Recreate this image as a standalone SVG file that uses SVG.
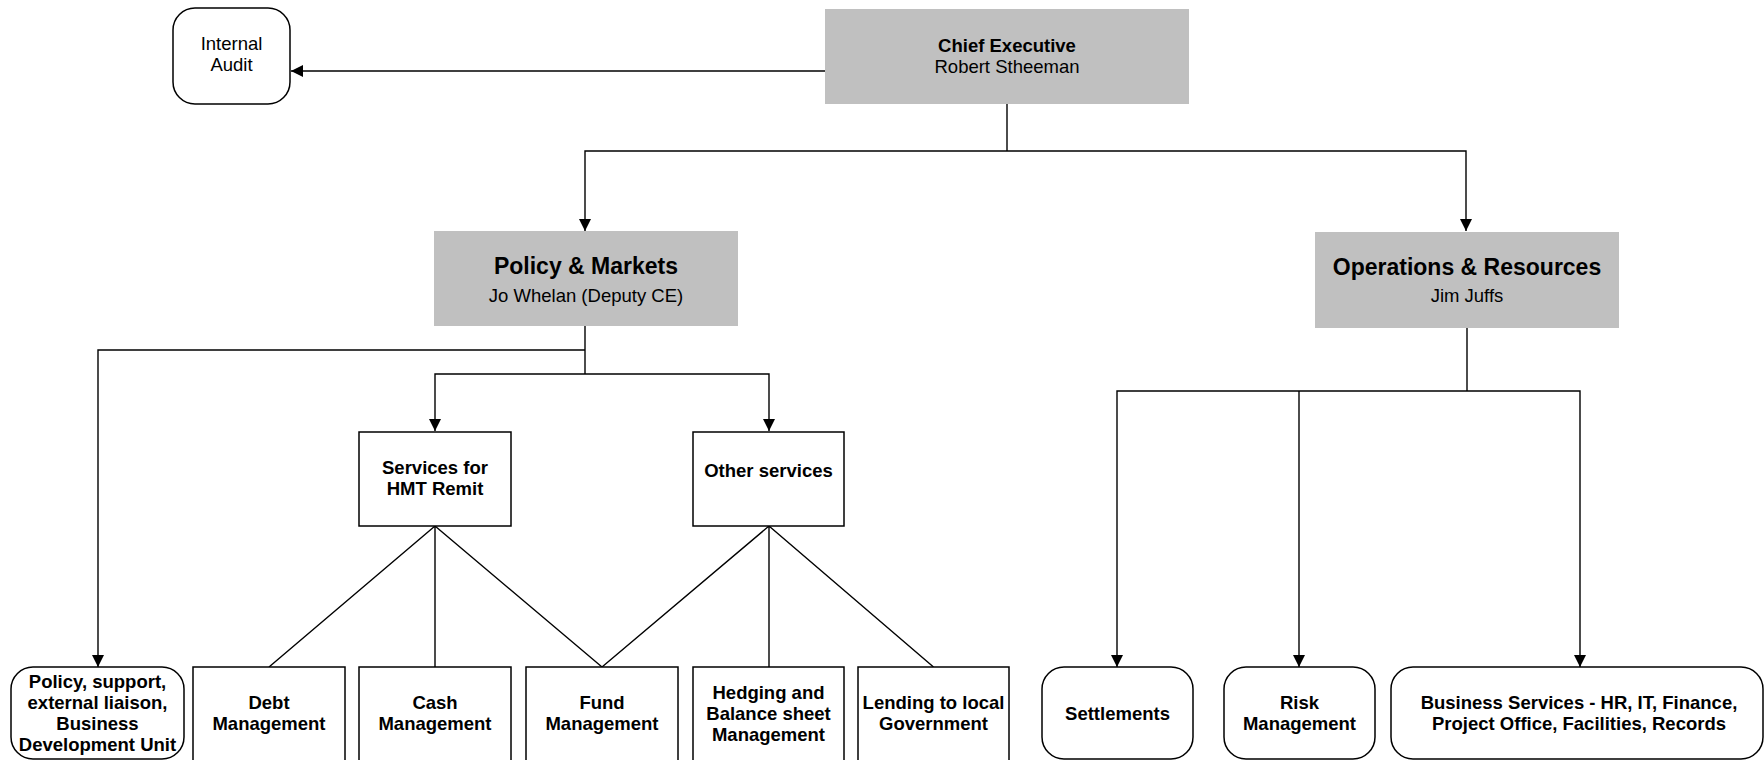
<svg xmlns="http://www.w3.org/2000/svg" width="1764" height="760" viewBox="0 0 1764 760">
<style>
text{font-family:"Liberation Sans",Arial,sans-serif;fill:#000;text-anchor:middle}
.b{font-weight:bold;font-size:18.5px}
.r{font-size:18.5px}
.t{font-weight:bold;font-size:23px}
.g{fill:#c0c0c0;stroke:none}
.w{fill:#fff;stroke:#000;stroke-width:1.5}
.c{fill:none;stroke:#000;stroke-width:1.4}
</style>
<defs>
<marker id="ah" markerUnits="userSpaceOnUse" markerWidth="13" markerHeight="13" refX="12" refY="6" orient="auto">
<path d="M0,0 L12,6 L0,12 z" fill="#000"/>
</marker>
</defs>
<rect width="1764" height="760" fill="#fff"/>
<g id="connectors">
<path class="c" d="M825,71 H291" marker-end="url(#ah)"/>
<path class="c" d="M1007,104 V151"/>
<path class="c" d="M1007,151 H585 V231" marker-end="url(#ah)"/>
<path class="c" d="M1007,151 H1466 V231" marker-end="url(#ah)"/>
<path class="c" d="M585,326 V374"/>
<path class="c" d="M585,350 H98 V667" marker-end="url(#ah)"/>
<path class="c" d="M585,374 H435 V431" marker-end="url(#ah)"/>
<path class="c" d="M585,374 H769 V431" marker-end="url(#ah)"/>
<path class="c" d="M1467,328 V391"/>
<path class="c" d="M1467,391 H1117 V667" marker-end="url(#ah)"/>
<path class="c" d="M1299,391 V667" marker-end="url(#ah)"/>
<path class="c" d="M1467,391 H1580 V667" marker-end="url(#ah)"/>
<path class="c" d="M435,526 L269,667 M435,526 L435,667 M435,526 L602,667"/>
<path class="c" d="M769,526 L602,667 M769,526 L769,667 M769,526 L933.5,667"/>
</g>
<g id="internal-audit">
<rect class="w" x="173" y="8" width="117" height="96" rx="22"/>
<text class="r" x="231.5" y="50">Internal</text>
<text class="r" x="231.5" y="71">Audit</text>
</g>
<g id="chief-executive">
<rect class="g" x="825" y="9" width="364" height="95"/>
<text class="b" x="1007" y="52">Chief Executive</text>
<text class="r" x="1007" y="73">Robert Stheeman</text>
</g>
<g id="policy-markets">
<rect class="g" x="434" y="231" width="304" height="95"/>
<text class="t" x="586" y="274">Policy &amp; Markets</text>
<text class="r" x="586" y="302">Jo Whelan (Deputy CE)</text>
</g>
<g id="operations-resources">
<rect class="g" x="1315" y="232" width="304" height="96"/>
<text class="t" x="1467" y="275">Operations &amp; Resources</text>
<text class="r" x="1467" y="302">Jim Juffs</text>
</g>
<g id="services-hmt">
<rect class="w" x="359" y="432" width="152" height="94"/>
<text class="b" x="435" y="474">Services for</text>
<text class="b" x="435" y="495">HMT Remit</text>
</g>
<g id="other-services">
<rect class="w" x="693" y="432" width="151" height="94"/>
<text class="b" x="768.5" y="477">Other services</text>
</g>
<g id="policy-support">
<rect class="w" x="11" y="667" width="173" height="92" rx="22"/>
<text class="b" x="97.5" y="687.5">Policy, support,</text>
<text class="b" x="97.5" y="708.5">external liaison,</text>
<text class="b" x="97.5" y="729.5">Business</text>
<text class="b" x="97.5" y="750.5">Development Unit</text>
</g>
<g id="debt-management">
<rect class="w" x="193" y="667" width="152" height="110"/>
<text class="b" x="269" y="709">Debt</text>
<text class="b" x="269" y="730">Management</text>
</g>
<g id="cash-management">
<rect class="w" x="359" y="667" width="152" height="110"/>
<text class="b" x="435" y="709">Cash</text>
<text class="b" x="435" y="730">Management</text>
</g>
<g id="fund-management">
<rect class="w" x="526" y="667" width="152" height="110"/>
<text class="b" x="602" y="709">Fund</text>
<text class="b" x="602" y="730">Management</text>
</g>
<g id="hedging">
<rect class="w" x="693" y="667" width="151" height="110"/>
<text class="b" x="768.5" y="699">Hedging and</text>
<text class="b" x="768.5" y="720">Balance sheet</text>
<text class="b" x="768.5" y="741">Management</text>
</g>
<g id="lending">
<rect class="w" x="858" y="667" width="151" height="110"/>
<text class="b" x="933.5" y="709">Lending to local</text>
<text class="b" x="933.5" y="730">Government</text>
</g>
<g id="settlements">
<rect class="w" x="1042" y="667" width="151" height="92" rx="22"/>
<text class="b" x="1117.5" y="720">Settlements</text>
</g>
<g id="risk-management">
<rect class="w" x="1224" y="667" width="151" height="92" rx="22"/>
<text class="b" x="1299.5" y="709">Risk</text>
<text class="b" x="1299.5" y="730">Management</text>
</g>
<g id="business-services">
<rect class="w" x="1391" y="667" width="372" height="92" rx="22"/>
<text class="b" x="1579" y="709">Business Services - HR, IT, Finance,</text>
<text class="b" x="1579" y="730">Project Office, Facilities, Records</text>
</g>
</svg>
